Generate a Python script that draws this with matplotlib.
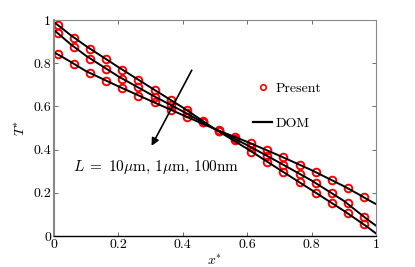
import matplotlib
matplotlib.use("Agg")
import matplotlib.pyplot as plt
import numpy as np

plt.rcParams['font.family'] = 'serif'
plt.rcParams['font.serif'] = ['cmr10']
plt.rcParams['mathtext.fontset'] = 'cm'
plt.rcParams['axes.unicode_minus'] = False
plt.rcParams['font.size'] = 10

# Present (markers)
x_pts = [0.0125, 0.0625, 0.1125, 0.1625, 0.2125, 0.2625, 0.3125, 0.3625, 0.4125, 0.4625,
         0.5125, 0.5625, 0.6125, 0.6625, 0.7125, 0.7625, 0.8125, 0.8625, 0.9125, 0.9625]
T_a = [0.977, 0.918, 0.866, 0.818, 0.770, 0.722, 0.676, 0.630, 0.583, 0.533,
       0.486, 0.444, 0.390, 0.343, 0.296, 0.248, 0.201, 0.154, 0.105, 0.054]
T_b = [0.938, 0.873, 0.821, 0.773, 0.728, 0.688, 0.645, 0.606, 0.568, 0.530,
       0.488, 0.450, 0.411, 0.370, 0.330, 0.288, 0.247, 0.201, 0.151, 0.089]
T_c = [0.841, 0.795, 0.753, 0.718, 0.684, 0.648, 0.619, 0.583, 0.552, 0.527,
       0.490, 0.457, 0.429, 0.398, 0.364, 0.330, 0.296, 0.259, 0.222, 0.179]

# DOM (lines)
x_dom = [0.0, 0.025, 0.05, 0.1, 0.2, 0.3, 0.4, 0.5, 0.6, 0.7, 0.8, 0.9, 0.95, 0.975, 1.0]
dom_a = [0.990, 0.962, 0.932, 0.879, 0.782, 0.688, 0.595, 0.495, 0.404, 0.308, 0.213, 0.117, 0.066, 0.040, 0.012]
dom_b = [0.954, 0.922, 0.890, 0.834, 0.739, 0.656, 0.577, 0.495, 0.421, 0.340, 0.257, 0.163, 0.104, 0.075, 0.048]
dom_c = [0.850, 0.830, 0.808, 0.763, 0.693, 0.626, 0.560, 0.495, 0.436, 0.372, 0.305, 0.231, 0.190, 0.168, 0.148]

ticks = [0, 0.2, 0.4, 0.6, 0.8, 1]
tick_labels = ['0', '0.2', '0.4', '0.6', '0.8', '1']

fig = plt.figure(figsize=(4.15, 2.67), dpi=100)
ax = fig.add_axes([0.130, 0.116, 0.776, 0.809])

for T in (T_a, T_b, T_c):
    ax.plot(x_pts, T, 'o', mfc='none', mec='red', ms=5.5, mew=1.4)
for d in (dom_a, dom_b, dom_c):
    ax.plot(x_dom, d, '-', color='black', lw=1.4)

# legend handles
h1, = ax.plot([], [], 'o', mfc='none', mec='red', ms=4, mew=1.2)
h2, = ax.plot([], [], '-', color='black', lw=1.6)
ax.legend([h1, h2], ['Present', 'DOM'], loc='center left', bbox_to_anchor=(0.618, 0.60),
          frameon=False, borderpad=0, borderaxespad=0, handlelength=1.4,
          handletextpad=0.25, labelspacing=1.6)

ax.annotate('', xy=(0.299, 0.406), xytext=(0.432, 0.779),
            arrowprops=dict(arrowstyle='-|>', color='black', lw=1.2, mutation_scale=11))
ax.text(0.058, 0.318, r'$L\;=\;10\mu$m, $1\mu$m, 100nm', va='center', ha='left', fontsize=11)

ax.set_xlim(0, 1)
ax.set_ylim(0, 1)
ax.set_xticks(ticks)
ax.set_xticklabels(tick_labels)
ax.set_yticks(ticks)
ax.set_yticklabels(tick_labels)
ax.tick_params(direction='in', length=3, width=0.6, top=True, right=True, pad=2, colors='#555555',
               labelcolor='black')
for s in ('top', 'right'):
    ax.spines[s].set_color('#888888')
    ax.spines[s].set_linewidth(0.8)
ax.spines['left'].set_color('#888888')
ax.spines['left'].set_linewidth(1.5)
ax.spines['bottom'].set_color('black')
ax.spines['bottom'].set_linewidth(1.0)

ax.set_xlabel(r'$x^{*}$', labelpad=2)
ax.set_ylabel(r'$T^{*}$', labelpad=4)

fig.savefig('out.png', dpi=100)
